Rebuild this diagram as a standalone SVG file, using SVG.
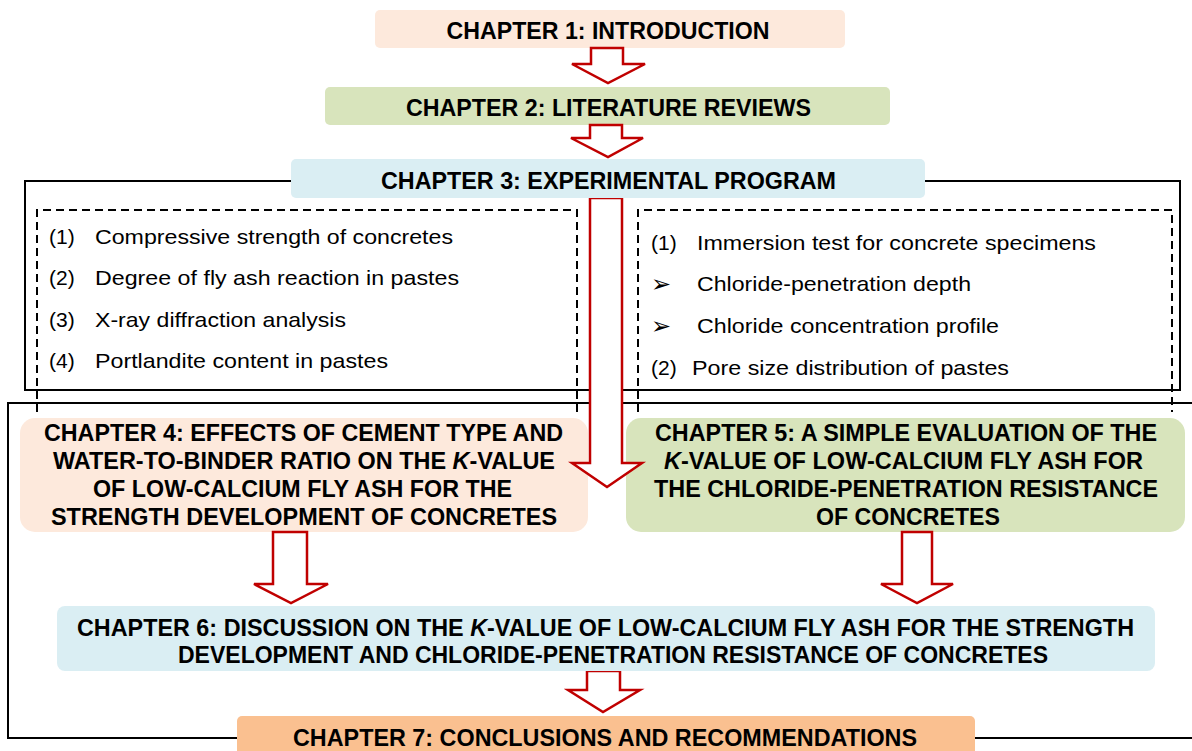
<svg xmlns="http://www.w3.org/2000/svg" width="1192" height="751" viewBox="0 0 1192 751">
<style>
.t{font-family:"Liberation Sans",Arial,sans-serif;font-weight:bold;font-size:24px;fill:#000;text-anchor:middle}
.l{font-family:"Liberation Sans",Arial,sans-serif;font-size:21px;fill:#000}
.b{font-family:"DejaVu Sans",sans-serif;font-size:24px;fill:#000}
.ar{fill:#fff;stroke:#c00000;stroke-width:2.5;stroke-linejoin:miter}
.frame{fill:none;stroke:#000;stroke-width:2}
.dash{fill:none;stroke:#000;stroke-width:2;stroke-dasharray:8,5}
</style>
<rect width="1192" height="751" fill="#fff"/>
<g id="frames">
<rect class="frame" x="25" y="181" width="1155" height="209"/>
<path class="frame" d="M1200,403 H8 V738 H1200"/>
<path class="dash" d="M37,412 V210 H577 V412"/>
<path class="dash" d="M638,412 V210 H1172 V412"/>
</g>
<g id="list-left">
<text class="l" x="49" y="244">(1)</text><text class="l" x="95" y="244" textLength="358" lengthAdjust="spacingAndGlyphs">Compressive strength of concretes</text>
<text class="l" x="49" y="285">(2)</text><text class="l" x="95" y="285" textLength="364" lengthAdjust="spacingAndGlyphs">Degree of fly ash reaction in pastes</text>
<text class="l" x="49" y="327">(3)</text><text class="l" x="95" y="327" textLength="251" lengthAdjust="spacingAndGlyphs">X-ray diffraction analysis</text>
<text class="l" x="49" y="368">(4)</text><text class="l" x="95" y="368" textLength="293" lengthAdjust="spacingAndGlyphs">Portlandite content in pastes</text>
</g>
<g id="list-right">
<text class="l" x="651" y="250">(1)</text><text class="l" x="697" y="250" textLength="399" lengthAdjust="spacingAndGlyphs">Immersion test for concrete specimens</text>
<text class="b" x="651" y="292">➢</text><text class="l" x="697" y="291" textLength="274" lengthAdjust="spacingAndGlyphs">Chloride-penetration depth</text>
<text class="b" x="651" y="334">➢</text><text class="l" x="697" y="333" textLength="302" lengthAdjust="spacingAndGlyphs">Chloride concentration profile</text>
<text class="l" x="651" y="375">(2)</text><text class="l" x="692" y="375" textLength="317" lengthAdjust="spacingAndGlyphs">Pore size distribution of pastes</text>
</g>
<g id="ch1">
<rect x="375" y="10" width="470" height="38" rx="5" fill="#fde9dc"/>
<text class="t" x="608" y="38.5" textLength="323" lengthAdjust="spacingAndGlyphs">CHAPTER 1: INTRODUCTION</text>
</g>
<g id="ch2">
<rect x="325" y="87" width="565" height="38" rx="5" fill="#d8e4bc"/>
<text class="t" x="608.5" y="115.5" textLength="405" lengthAdjust="spacingAndGlyphs">CHAPTER 2: LITERATURE REVIEWS</text>
</g>
<g id="ch4">
<rect x="20" y="418" width="568" height="114" rx="15" fill="#fde9dc"/>
<text class="t" x="303.5" y="440.5" textLength="519" lengthAdjust="spacingAndGlyphs">CHAPTER 4: EFFECTS OF CEMENT TYPE AND</text>
<text class="t" x="304" y="469" textLength="502" lengthAdjust="spacingAndGlyphs">WATER-TO-BINDER RATIO ON THE <tspan font-style="italic">K</tspan>-VALUE</text>
<text class="t" x="302.5" y="497" textLength="419" lengthAdjust="spacingAndGlyphs">OF LOW-CALCIUM FLY ASH FOR THE</text>
<text class="t" x="304" y="524.5" textLength="506" lengthAdjust="spacingAndGlyphs">STRENGTH DEVELOPMENT OF CONCRETES</text>
</g>
<g id="ch5">
<rect x="626" y="418" width="559" height="114" rx="15" fill="#d8e4bc"/>
<text class="t" x="906" y="440.5" textLength="502" lengthAdjust="spacingAndGlyphs">CHAPTER 5: A SIMPLE EVALUATION OF THE</text>
<text class="t" x="903.5" y="469" textLength="479" lengthAdjust="spacingAndGlyphs"><tspan font-style="italic">K</tspan>-VALUE OF LOW-CALCIUM FLY ASH FOR</text>
<text class="t" x="906" y="497" textLength="504" lengthAdjust="spacingAndGlyphs">THE CHLORIDE-PENETRATION RESISTANCE</text>
<text class="t" x="908" y="524.5" textLength="184" lengthAdjust="spacingAndGlyphs">OF CONCRETES</text>
</g>
<g id="connectors">
<polygon class="ar" points="591,48 591,64 572,64 608,83 645,64 623,64 623,48"/>
<polygon class="ar" points="590,125 590,138 571,138 608,157 643,138 622,138 622,125"/>
<polygon class="ar" points="590,198 590,463 572,463 607,487 642,463 622,463 622,198"/>
<polygon class="ar" points="273,532 273,584 254,584 291,603 328,584 307,584 307,532"/>
<polygon class="ar" points="902,532 902,584 881,584 917,603 953,584 932,584 932,532"/>
<polygon class="ar" points="587,671 587,690 568,690 603,712 640,690 620,690 620,671"/>
</g>
<g id="ch3">
<rect x="291" y="159" width="634" height="39" rx="5" fill="#daeef3"/>
<text class="t" x="608.5" y="188.5" textLength="455" lengthAdjust="spacingAndGlyphs">CHAPTER 3: EXPERIMENTAL PROGRAM</text>
</g>
<g id="ch6">
<rect x="57" y="606" width="1098" height="65" rx="8" fill="#daeef3"/>
<text class="t" x="605.5" y="635.5" textLength="1057" lengthAdjust="spacingAndGlyphs">CHAPTER 6: DISCUSSION ON THE <tspan font-style="italic">K</tspan>-VALUE OF LOW-CALCIUM FLY ASH FOR THE STRENGTH</text>
<text class="t" x="613" y="662.5" textLength="870" lengthAdjust="spacingAndGlyphs">DEVELOPMENT AND CHLORIDE-PENETRATION RESISTANCE OF CONCRETES</text>
</g>
<g id="ch7">
<rect x="237" y="716" width="738" height="50" rx="5" fill="#fac090"/>
<text class="t" x="605" y="745.5" textLength="624" lengthAdjust="spacingAndGlyphs">CHAPTER 7: CONCLUSIONS AND RECOMMENDATIONS</text>
</g>
</svg>
